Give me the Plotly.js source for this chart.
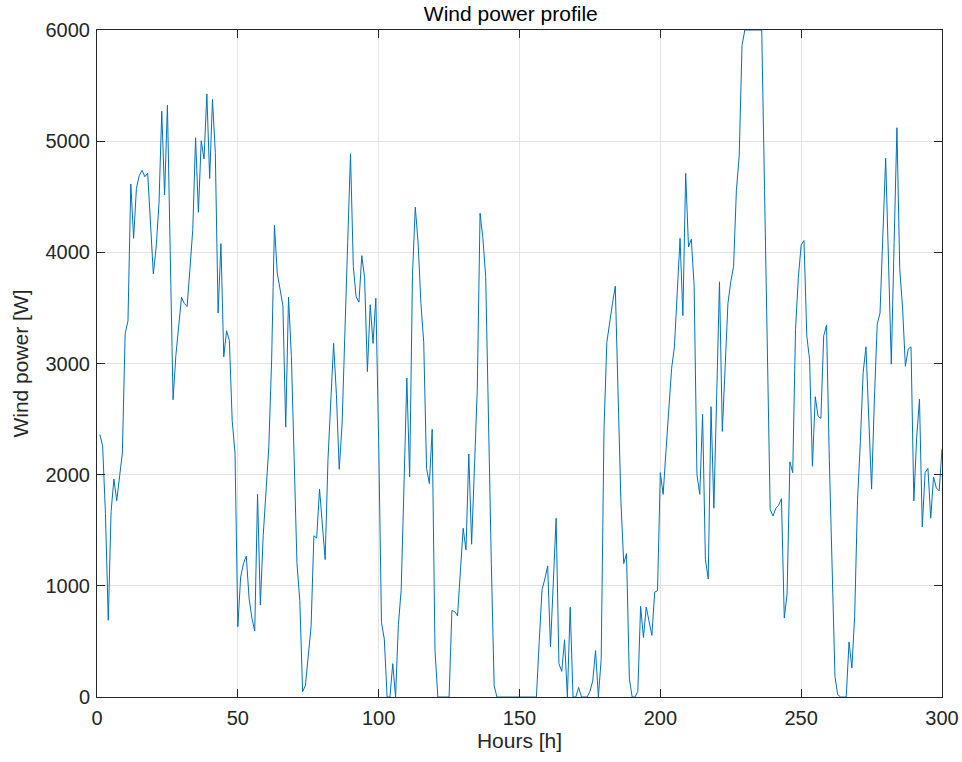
<!DOCTYPE html>
<html>
<head>
<meta charset="utf-8">
<script src="https://cdn.plot.ly/plotly-3.0.1.min.js"></script>
<style>html,body{margin:0;padding:0;background:#fff;}#chart{width:962px;height:762px;}</style>
</head>
<body>
<div id="chart"></div>
<script>
// Hours 1..300
const hoursStart = 1;
const windPower = [
  2361, 2260, 1650, 690, 1667, 1960, 1765, 2000, 2194, 3267,
  3384, 4614, 4126, 4575, 4692, 4738, 4680, 4711, 4200, 3805,
  4047, 4438, 5269, 4516, 5324, 3900, 2674, 3072, 3345, 3595,
  3540, 3513, 3853, 4204, 5031, 4360, 5004, 4840, 5425, 4664,
  5375, 4900, 3454, 4078, 3060, 3294, 3208, 2486, 2194, 632,
  1081, 1200, 1268, 886, 710, 593, 1823, 827, 1450, 1900,
  2250, 3033, 4243, 3813, 3657, 3520, 2428, 3598, 3072, 2200,
  1200, 866, 47, 105, 350, 632, 1450, 1430, 1870, 1550,
  1237, 2135, 2681, 3181, 2720, 2049, 2447, 3384, 4087, 4887,
  3872, 3599, 3552, 3970, 3774, 2927, 3529, 3181, 3587, 2300,
  671, 520, 0, 0, 300, 0, 652, 964, 1850, 2869,
  1979, 3794, 4407, 4087, 3540, 3189, 2057, 1920, 2408, 418,
  0, 0, 0, 0, 0, 777, 769, 730, 1150, 1518,
  1323, 2186, 1374, 2135, 2760, 4352, 4126, 3782, 2400, 1200,
  100, 0, 0, 0, 0, 0, 0, 0, 0, 0,
  0, 0, 0, 0, 0, 0, 500, 964, 1062, 1179,
  449, 1000, 1608, 300, 230, 515, 0, 808, 0, 0,
  86, 0, 0, 0, 50, 144, 418, 0, 340, 2408,
  3189, 3384, 3540, 3696, 2830, 1764, 1200, 1290, 164, 0,
  0, 50, 816, 535, 808, 691, 554, 944, 956, 2018,
  1823, 2213, 2603, 2955, 3150, 3657, 4126, 3431, 4711, 4048,
  4118, 3696, 2000, 1823, 2545, 1237, 1062, 2611, 1698, 2700,
  3735, 2389, 3052, 3540, 3735, 3872, 4555, 4867, 5862, 6000,
  6000, 6000, 6000, 6000, 6000, 6000, 4555, 3072, 1686, 1628,
  1698, 1725, 1784, 710, 925, 2115, 2018, 3306, 3774, 4067,
  4106, 3247, 3033, 2076, 2701, 2525, 2506, 3247, 3345, 2135,
  1160, 183, 20, 0, 0, 0, 496, 261, 730, 1764,
  2291, 2916, 3150, 2500, 1870, 2681, 3353, 3454, 4087, 4848,
  3930, 2994, 4087, 5121, 3852, 3500, 2975, 3130, 3150, 1764,
  2330, 2681, 1530, 2018, 2057, 1608, 1979, 1881, 1854, 2233
];
const hours = windPower.map((_, i) => hoursStart + i);

const titleText = 'Wind power profile';
const xTitle = 'Hours [h]';
const yTitle = 'Wind power [W]';
const xTicks = [0, 50, 100, 150, 200, 250, 300];
const yTicks = [0, 1000, 2000, 3000, 4000, 5000, 6000];

const fontFam = 'Liberation Sans, Arial, Helvetica, sans-serif';
const axisCol = '#262626';

const trace = {
  x: hours, y: windPower, type: 'scatter', mode: 'lines',
  line: {color: '#0072BD', width: 1}, hoverinfo: 'skip'
};

const axisCommon = {
  showline: true, linecolor: axisCol, linewidth: 1, mirror: 'ticks',
  ticks: 'inside', ticklen: 8, tickwidth: 1, tickcolor: axisCol,
  showgrid: true, gridcolor: '#e3e3e3', gridwidth: 1, zeroline: false,
  tickfont: {family: fontFam, size: 20, color: axisCol}
};

const layout = {
  width: 962, height: 762,
  paper_bgcolor: '#fff', plot_bgcolor: '#fff',
  margin: {l: 97, r: 20, t: 30, b: 65},
  showlegend: false,
  title: {text: titleText, x: 0.531, xanchor: 'center', y: 0.982, yanchor: 'middle',
          font: {family: fontFam, size: 21, color: '#000'}},
  xaxis: Object.assign({}, axisCommon, {
    range: [0, 300], tickvals: xTicks, ticktext: xTicks.map(String),
    ticklabelstandoff: 3,
    title: {text: xTitle, font: {family: fontFam, size: 21, color: axisCol}, standoff: 5}
  }),
  yaxis: Object.assign({}, axisCommon, {
    range: [0, 6000], tickvals: yTicks, ticktext: yTicks.map(String),
    ticklabelstandoff: 2,
    title: {text: yTitle, font: {family: fontFam, size: 21, color: axisCol}, standoff: 11}
  })
};

Plotly.newPlot('chart', [trace], layout, {displayModeBar: false, staticPlot: true});
</script>
</body>
</html>
